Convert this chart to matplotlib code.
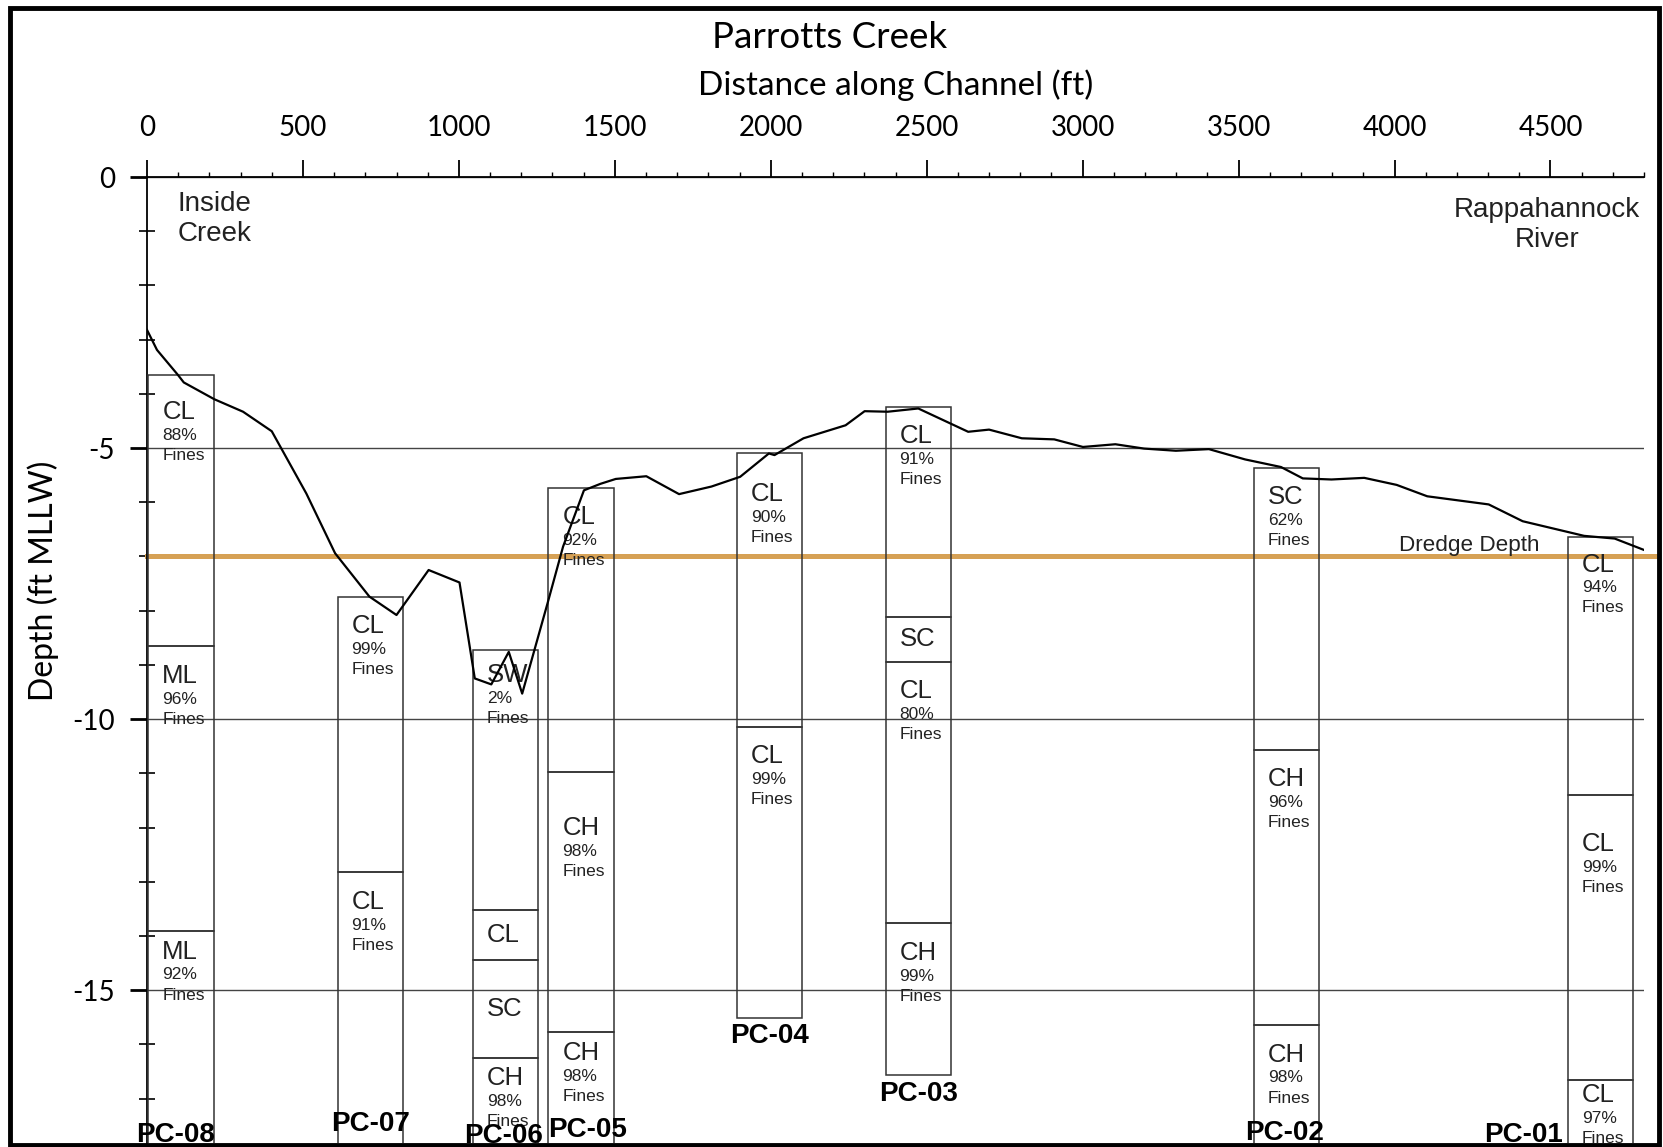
import matplotlib
matplotlib.use('Agg')
import matplotlib.pyplot as plt
from matplotlib.patches import Rectangle
from matplotlib.ticker import MultipleLocator

plt.rcParams['axes.unicode_minus'] = False

# bed profile along the channel thalweg
dist_ft = [0, 32, 99, 118, 216, 308, 400, 511, 603, 713, 800, 903, 1002, 1051,
           1104, 1160, 1203, 1284, 1334, 1401, 1454, 1503, 1601, 1706, 1810, 1902,
           1994, 2012, 2105, 2240, 2301, 2375, 2473, 2633, 2700, 2805, 2909, 3001,
           3105, 3197, 3299, 3405, 3521, 3636, 3706, 3798, 3903, 4007, 4105, 4302,
           4411, 4608, 4706, 4800]
bed_elev = [-2.82, -3.19, -3.65, -3.79, -4.10, -4.33, -4.69, -5.84, -6.94, -7.74,
            -8.08, -7.25, -7.48, -9.25, -9.36, -8.76, -9.53, -7.87, -6.82, -5.78,
            -5.66, -5.57, -5.52, -5.85, -5.71, -5.53, -5.10, -5.13, -4.82, -4.58,
            -4.32, -4.33, -4.27, -4.70, -4.66, -4.82, -4.84, -4.98, -4.93, -5.01,
            -5.05, -5.02, -5.21, -5.35, -5.56, -5.58, -5.55, -5.68, -5.89, -6.04,
            -6.35, -6.62, -6.67, -6.88]

dredge_depth = -7.0

# vibracores
cores = ['PC-08', 'PC-07', 'PC-06', 'PC-05', 'PC-04', 'PC-03', 'PC-02', 'PC-01']
core_station = [109, 716, 1150, 1392, 1996, 2473, 3654, 4660]
layer_tops = [
    [-3.66, -8.66, -13.91],
    [-7.75, -12.83],
    [-8.72, -13.52, -14.45, -16.26],
    [-5.73, -10.97, -15.77],
    [-5.10, -10.15],
    [-4.24, -8.11, -8.94, -13.77],
    [-5.36, -10.57, -15.65],
    [-6.65, -11.40, -16.65],
]
layer_soil = [
    ['CL', 'ML', 'ML'],
    ['CL', 'CL'],
    ['SW', 'CL', 'SC', 'CH'],
    ['CL', 'CH', 'CH'],
    ['CL', 'CL'],
    ['CL', 'SC', 'CL', 'CH'],
    ['SC', 'CH', 'CH'],
    ['CL', 'CL', 'CL'],
]
layer_fines = [
    [88, 96, 92],
    [99, 91],
    [2, None, None, 98],
    [92, 98, 98],
    [90, 99],
    [91, None, 80, 99],
    [62, 96, 98],
    [94, 99, 97],
]
# cores without a bottom value run below the plotted depth range
core_bottom = [-18.5, -18.5, -18.5, -18.5, -15.51, -16.57, -18.5, -18.5]

# --- layout ---
W, H = 1663, 1147
core_w = 210
label_drop = {(0, 0): 0.68, (0, 2): 0.38, (2, 0): 0.47, (2, 3): 0.37,
              (3, 1): 1.04, (3, 2): 0.39, (4, 0): 0.75, (7, 0): 0.5,
              (7, 1): 0.9, (7, 2): 0.29}
tag_spots = {'PC-08': (93, -17.68), 'PC-07': (717, -17.47), 'PC-06': (1143, -17.69),
             'PC-05': (1412, -17.58), 'PC-02': (3649, -17.63), 'PC-01': (4415, -17.67)}

arial = 'Liberation Sans'
cal = 'Lato'
ink = '#222222'

fig = plt.figure(figsize=(W / 100, H / 100), dpi=100)
ax = fig.add_axes([147 / W, 4 / H, 1497 / W, 966 / H])
ax.set_xlim(0, 4800)
ax.set_ylim(-17.82, 0)

for s in ['right', 'bottom']:
    ax.spines[s].set_visible(False)
for s in ['top', 'left']:
    ax.spines[s].set_linewidth(1.3)

ax.xaxis.tick_top()
ax.set_xticks(range(0, 4501, 500))
ax.xaxis.set_minor_locator(MultipleLocator(100))
ax.set_yticks([0, -5, -10, -15])
ax.set_yticklabels(['0', '-5', '-10', '-15'])
ax.yaxis.set_minor_locator(MultipleLocator(1))
ax.tick_params(axis='x', which='major', direction='out', length=12, width=1.3,
               pad=14, labelsize=20)
ax.tick_params(axis='x', which='minor', direction='out', length=3.5, width=1)
ax.tick_params(axis='y', which='major', direction='out', length=12, width=2,
               pad=11, labelsize=20)
ax.tick_params(axis='y', which='minor', direction='inout', length=12, width=1.2)
for lab in ax.get_xticklabels() + ax.get_yticklabels():
    lab.set_family(cal)

ax.yaxis.grid(True, which='major', color='#444444', linewidth=1)
ax.set_axisbelow(True)

ax.xaxis.set_label_position('top')
ax.set_xlabel('Distance along Channel (ft)', fontsize=24, family=cal, labelpad=14)
ax.set_ylabel('Depth (ft MLLW)', fontsize=23, family=cal)
ax.yaxis.set_label_coords(-0.059, 0.582)
fig.text(830 / W, 1 - 37 / H, 'Parrotts Creek', fontsize=26.5, family=cal,
         ha='center', va='center')

# dredge depth line
ax.axhline(dredge_depth, xmin=0, xmax=1.009, color='#D6A155', linewidth=3.6,
           clip_on=False, zorder=2)
ax.text(4241, dredge_depth + 0.21, 'Dredge Depth', fontsize=16.2, family=arial,
        ha='center', va='center', color=ink)

# cores
for i, name in enumerate(cores):
    left = core_station[i] - core_w / 2
    tops = layer_tops[i]
    bottoms = tops[1:] + [core_bottom[i]]
    for j, (top, bot) in enumerate(zip(tops, bottoms)):
        ax.add_patch(Rectangle((left, bot), core_w, top - bot, fill=False,
                               edgecolor='#333333', linewidth=1.1, zorder=3))
        tx = left + 45
        soil = layer_soil[i][j]
        fines = layer_fines[i][j]
        if fines is None:
            ax.text(tx, (top + bot) / 2, soil, fontsize=18.5, family=arial,
                    ha='left', va='center', color=ink, zorder=4)
            continue
        yc = top - label_drop.get((i, j), 0.54)
        ax.text(tx, yc, soil, fontsize=18.5, family=arial, ha='left',
                va='center', color=ink, zorder=4)
        ax.text(tx, yc - 0.43, f'{fines}%', fontsize=12.5, family=arial,
                ha='left', va='center', color=ink, zorder=4)
        ax.text(tx, yc - 0.80, 'Fines', fontsize=12.5, family=arial,
                ha='left', va='center', color=ink, zorder=4)
    # core names sit at the bottom edge; the frame trims the deep ones
    if name in tag_spots:
        x, y = tag_spots[name]
        ax.text(x, y, name, fontsize=20, family=arial, weight='bold',
                ha='center', va='center', clip_on=False, zorder=4)
    else:
        ax.text(core_station[i], core_bottom[i] - 0.1, name, fontsize=20,
                family=arial, weight='bold', ha='center', va='top', zorder=4)

# bed profile
ax.plot(dist_ft, bed_elev, color='black', linewidth=1.6, zorder=5)

ax.text(99, -0.78, 'Inside\nCreek', fontsize=20, family=arial, ha='left',
        va='center', color=ink, linespacing=1.2)
ax.text(4489, -0.88, 'Rappahannock\nRiver', fontsize=20, family=arial,
        ha='center', va='center', color=ink, linespacing=1.2)

# outer frame
fig.patches.append(Rectangle((10 / W, 2 / H), 1649 / W, 1137 / H, fill=False,
                             edgecolor='black', linewidth=3.5,
                             transform=fig.transFigure, figure=fig))

fig.savefig('out.png', dpi=100)
